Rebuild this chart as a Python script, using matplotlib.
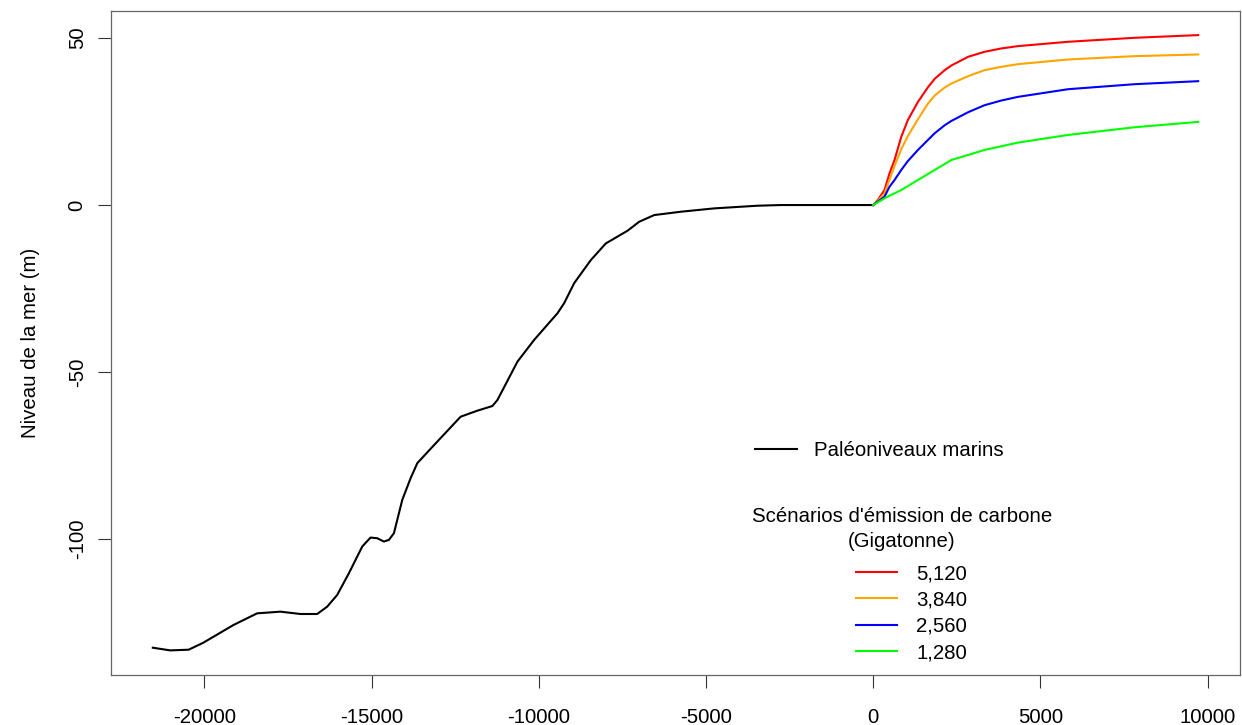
import matplotlib
matplotlib.use("Agg")
import matplotlib.pyplot as plt
from matplotlib.lines import Line2D

plt.rcParams["font.family"] = ["Liberation Sans", "DejaVu Sans"]

# ── data ──────────────────────────────────────────────────────────────────────
paleo_x = [-21540, -21020, -20470, -20030, -19130, -18420, -17725, -17125,
           -16625, -16326, -16027, -15677, -15278, -15030, -14830, -14630,
           -14480, -14330, -14230, -14080, -13830, -13630, -13130, -12335,
           -11835, -11385, -11235, -10636, -10137, -9438, -9240, -8940,
           -8443, -7994, -7345, -6995, -6546, -5748, -4750, -3452, -2754,
           -160, 0]
paleo_y = [-132.6, -133.4, -133.2, -131.1, -125.8, -122.3, -121.8, -122.5,
           -122.5, -120.3, -116.8, -110.3, -102.3, -99.6, -99.8, -100.8,
           -100.3, -98.3, -94.3, -88.3, -81.8, -77.3, -71.9, -63.4,
           -61.6, -60.2, -58.4, -46.9, -40.4, -32.4, -29.4, -23.4,
           -16.5, -11.5, -7.7, -5.0, -3.0, -2.0, -1.0, -0.2, 0.0,
           0.0, 0.0]

future_x = [0, 140, 340, 490, 640, 840, 1040, 1340, 1640, 1840, 2140, 2340,
            2840, 3330, 3830, 4330, 5830, 7820, 9720]
sc_5120 = [0, 1.5, 4.5, 9.5, 13.5, 20.4, 25.5, 30.9, 35.3, 37.8, 40.4, 41.8,
           44.4, 45.9, 46.9, 47.6, 48.9, 50.1, 50.9]
sc_3840 = [0, 1.2, 3.5, 7.6, 11.7, 16.7, 20.7, 25.7, 30.4, 32.8, 35.2, 36.4,
           38.6, 40.4, 41.4, 42.2, 43.6, 44.6, 45.1]
sc_2560 = [0, 1.0, 2.5, 5.5, 7.5, 10.5, 13.2, 16.5, 19.5, 21.5, 23.9, 25.2,
           27.8, 29.9, 31.3, 32.4, 34.7, 36.2, 37.1]
sc_1280 = [0, 0.8, 2.0, 2.8, 3.5, 4.5, 5.7, 7.5, 9.3, 10.5, 12.3, 13.5,
           15.0, 16.5, 17.6, 18.7, 21.0, 23.3, 24.9]

scenario_labels = ["5,120", "3,840", "2,560", "1,280"]
scenario_colors = ["#ff0000", "#ffa500", "#0000ff", "#00ff00"]

x_ticks = [-20000, -15000, -10000, -5000, 0, 5000, 10000]
y_ticks = [-100, -50, 0, 50]

FS = 14.7
W, H = 1242, 725

fig = plt.figure(figsize=(W / 100, H / 100), dpi=100)
ax = fig.add_axes([111 / W, 1 - 675 / H, (1240 - 111) / W, (675 - 10.5) / H])

ax.plot(paleo_x, paleo_y, color="black", lw=1.5)
for ys, col in zip([sc_5120, sc_3840, sc_2560, sc_1280], scenario_colors):
    ax.plot(future_x, ys, color=col, lw=1.5)

# R-style 4% padding
xmin, xmax = min(paleo_x), max(future_x)
ymin, ymax = min(paleo_y), max(sc_5120)
px, py = 0.04 * (xmax - xmin), 0.04 * (ymax - ymin)
ax.set_xlim(xmin - px, xmax + px)
ax.set_ylim(ymin - py, ymax + py)

ax.set_xticks(x_ticks)
ax.set_yticks(y_ticks)
ax.set_xticklabels([str(v) for v in x_ticks])
ax.set_yticklabels([str(v) for v in y_ticks], rotation=90, va="center")
ax.tick_params(axis="both", direction="out", length=9.5, width=0.8,
               color="#333333", labelsize=FS)
ax.tick_params(axis="x", pad=14)
ax.tick_params(axis="y", pad=8)
for sp in ax.spines.values():
    sp.set_color("#666666")
    sp.set_linewidth(0.9)

fig.text(31 / W, 1 - 343 / H, "Niveau de la mer (m)", rotation=90,
         ha="center", va="center", fontsize=FS)

# legend 1: paleo sea level
fig.legend([Line2D([], [], color="black", lw=1.5)], ["Paléoniveaux marins"],
           loc="center left", bbox_to_anchor=(755 / W, 1 - 451 / H),
           frameon=False, fontsize=FS, borderpad=0, borderaxespad=0,
           handlelength=2.05, handletextpad=0.85)

# legend 2: carbon emission scenarios
fig.text(902 / W, 1 - 529 / H, "Scénarios d'émission de carbone\n(Gigatonne)",
         ha="center", va="center", fontsize=FS, linespacing=1.38)
handles = [Line2D([], [], color=c, lw=1.5) for c in scenario_colors]
fig.legend(handles, scenario_labels, loc="upper left",
           bbox_to_anchor=(856 / W, 1 - 564 / H), frameon=False, fontsize=FS,
           borderpad=0, borderaxespad=0, handlelength=2.0, handletextpad=0.95,
           labelspacing=0.36)

fig.savefig("out.png", dpi=100)
